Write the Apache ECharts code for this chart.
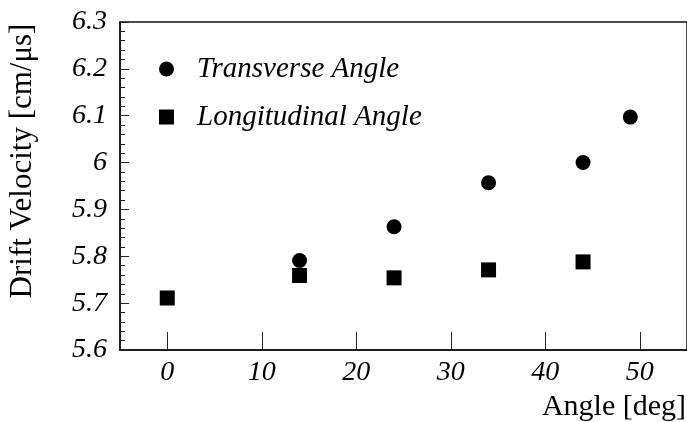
<!DOCTYPE html>
<html>
<head>
<meta charset="utf-8">
<script src="https://cdn.jsdelivr.net/npm/echarts@6/dist/echarts.min.js"></script>
<style>
  html, body { margin: 0; padding: 0; background: #fff; }
  #chart { width: 687px; height: 422px; }
</style>
</head>
<body>
<div id="chart"></div>
<script>
// Drift velocity measurements versus track angle
const transverseAngles = [14, 24, 34, 44, 49];
const transverseVelocity = [5.791, 5.863, 5.957, 6.000, 6.097];
const longitudinalAngles = [0, 14, 24, 34, 44];
const longitudinalVelocity = [5.711, 5.759, 5.754, 5.771, 5.788];

const seriesNames = ['Transverse Angle', 'Longitudinal Angle'];
const xTitle = 'Angle [deg]';
const yTitle = 'Drift Velocity [cm/\u03bcs]';

const serif = 'Liberation Serif';
const axisColor = '#111';

function pairs(xs, ys) {
  return xs.map((x, i) => [x, ys[i]]);
}

const tickFont = {
  fontFamily: serif, fontStyle: 'italic', fontWeight: 'normal', fontSize: 28, color: '#000'
};

const chart = echarts.init(document.getElementById('chart'), null, { renderer: 'canvas' });

chart.setOption({
  animation: false,
  backgroundColor: '#fff',
  textStyle: { fontFamily: serif, fontStyle: 'italic', color: '#000' },
  grid: {
    left: 120, top: 22, width: 568, height: 328,
    show: true, borderColor: axisColor, borderWidth: 1.5, backgroundColor: 'transparent'
  },
  legend: {
    orient: 'vertical',
    left: 159, top: 54,
    padding: 0,
    itemWidth: 15, itemHeight: 15,
    itemGap: 18,
    data: [
      { name: seriesNames[0], icon: 'circle' },
      { name: seriesNames[1], icon: 'rect' }
    ],
    itemStyle: { opacity: 1 },
    textStyle: {
      fontFamily: serif, fontStyle: 'italic', fontSize: 29, color: '#000',
      lineHeight: 30, padding: [0, 0, 0, 18]
    }
  },
  xAxis: {
    type: 'value',
    min: -5, max: 55,
    splitNumber: 6,
    axisLine: { show: true, onZero: false, lineStyle: { color: axisColor, width: 1.5 } },
    axisTick: { show: true, inside: true, length: 18, lineStyle: { color: '#222', width: 1 } },
    minorTick: { show: false },
    splitLine: { show: false },
    axisLabel: Object.assign({ showMinLabel: false, showMaxLabel: false, margin: 9 }, tickFont)
  },
  yAxis: {
    type: 'value',
    min: 5.6, max: 6.3, interval: 0.1,
    axisLine: { show: true, onZero: false, lineStyle: { color: axisColor, width: 1.5 } },
    axisTick: { show: true, inside: true, length: 9, lineStyle: { color: '#222', width: 1 } },
    minorTick: { show: true, splitNumber: 5, length: 5, lineStyle: { color: '#222', width: 1 } },
    splitLine: { show: false },
    axisLabel: Object.assign({
      margin: 13,
      formatter: v => String(Math.round(v * 10) / 10)
    }, tickFont)
  },
  graphic: [
    {
      type: 'text', x: 686, y: 407,
      style: { text: xTitle, font: '30px "Liberation Serif"', fill: '#000', align: 'right', verticalAlign: 'middle' }
    },
    {
      type: 'text', x: 23, y: 161, rotation: Math.PI / 2,
      style: { text: yTitle, font: '31px "Liberation Serif"', fill: '#000', align: 'center', verticalAlign: 'middle' }
    }
  ],
  series: [
    {
      name: seriesNames[0], type: 'scatter', symbol: 'circle', symbolSize: 15,
      itemStyle: { color: '#000', opacity: 1 },
      data: pairs(transverseAngles, transverseVelocity)
    },
    {
      name: seriesNames[1], type: 'scatter', symbol: 'rect', symbolSize: 15,
      itemStyle: { color: '#000', opacity: 1 },
      data: pairs(longitudinalAngles, longitudinalVelocity)
    }
  ]
});
</script>
</body>
</html>
